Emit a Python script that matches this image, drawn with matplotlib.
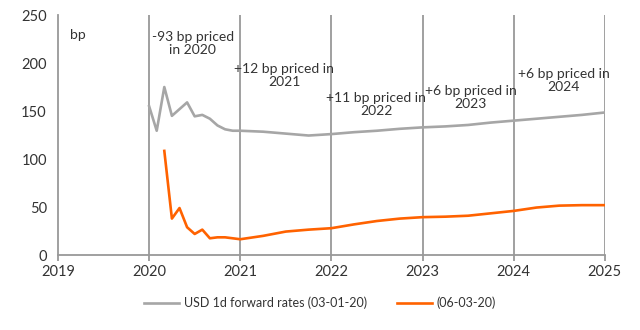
import matplotlib
matplotlib.use("Agg")
import matplotlib.pyplot as plt
import numpy as np

plt.rcParams['font.family'] = ['Lato', 'DejaVu Sans']

# Monthly points for 2020, then quarterly
gray_t = [2020 + m / 12 for m in range(12)] + [2021 + q / 4 for q in range(17)]
gray_v = [155, 129.5, 175, 145, 152, 159, 144.5, 146, 142, 135, 131, 129.5,
          129.5, 128.5, 126.5, 124.5, 126, 128, 129.5, 131.5, 133, 134, 135.5,
          138, 140, 142, 144, 146, 148.5]

orange_t = [2020 + m / 12 for m in range(2, 12)] + [2021 + q / 4 for q in range(17)]
orange_v = [108.5, 38, 49, 29, 22, 26.5, 17.5, 18.5, 18.5, 17.5,
            16.5, 20, 24.5, 26.5, 28, 32, 35.5, 38, 39.5, 40, 41, 43.5,
            46, 49.5, 51.5, 52, 52]

years = [2019, 2020, 2021, 2022, 2023, 2024, 2025]
ann_text = ["-93 bp priced\nin 2020", "+12 bp priced in\n2021", "+11 bp priced in\n2022",
            "+6 bp priced in\n2023", "+6 bp priced in\n2024"]
ann_x = [2020.48, 2021.48, 2022.49, 2023.53, 2024.55]
ann_y = [220, 187.5, 157, 164.5, 182]

series_labels = ["USD 1d forward rates (03-01-20)", "(06-03-20)"]

fig = plt.figure(figsize=(6.4, 3.3), dpi=100)
ax = fig.add_axes([0.0906, 0.227, 0.8544, 0.7275])

txt = '#333333'
for y in years[1:]:
    ax.axvline(y, color='#999999', lw=1.3, zorder=1)

ax.plot(gray_t, gray_v, color='#a6a6a6', lw=1.9, label=series_labels[0], zorder=3)
ax.plot(orange_t, orange_v, color='#ff6200', lw=1.9, label=series_labels[1], zorder=3)

ax.set_xlim(2019, 2025)
ax.set_ylim(0, 250)
ax.set_xticks(years)
ax.set_xticklabels([str(y) for y in years])
ax.set_yticks([0, 50, 100, 150, 200, 250])

for s in ['top', 'right']:
    ax.spines[s].set_visible(False)
for s in ['left', 'bottom']:
    ax.spines[s].set_color('#999999')
    ax.spines[s].set_linewidth(1.3)
ax.tick_params(axis='x', length=4, color='#999999', width=1.3, labelsize=10.5, labelcolor=txt, pad=3)
ax.tick_params(axis='y', length=0, labelsize=10.5, labelcolor=txt, pad=8)

ax.text(2019.22, 229, "bp", ha='center', va='center', fontsize=10, color=txt)
for t, x, y in zip(ann_text, ann_x, ann_y):
    ax.text(x, y, t, ha='center', va='center', fontsize=10, color=txt, linespacing=1.1)

fig.legend(loc='center', bbox_to_anchor=(0.5, 0.083), ncol=2, frameon=False,
           fontsize=9, labelcolor=txt, handlelength=2.8, handletextpad=0.4,
           columnspacing=2.4)

fig.savefig('out.png', dpi=100)
